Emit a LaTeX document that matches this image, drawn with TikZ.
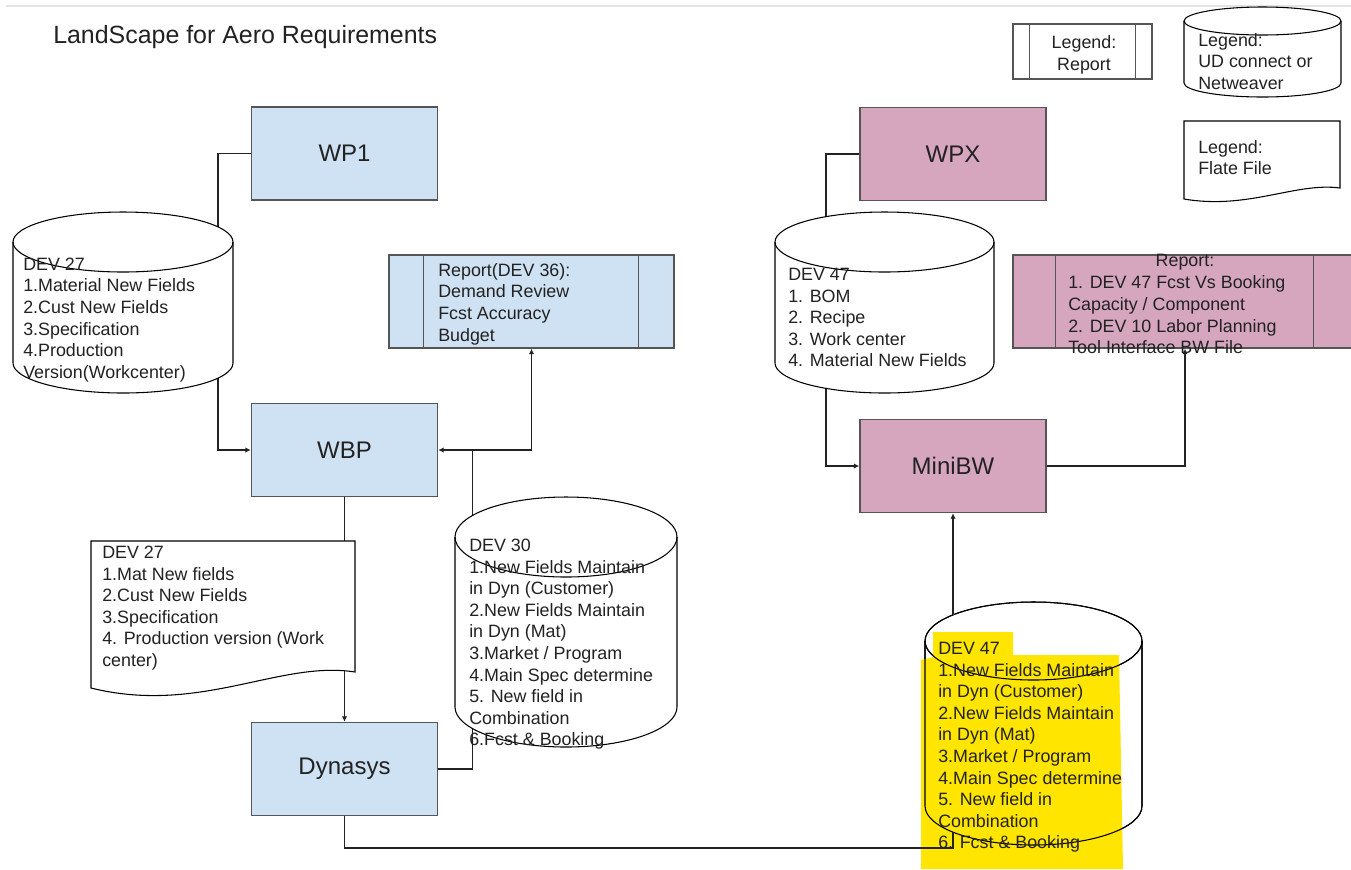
\documentclass[tikz,border=0pt]{standalone}
\usepackage{fontspec}
\setmainfont{Liberation Sans}
\usetikzlibrary{arrows.meta,calc}
\definecolor{boxblue}{HTML}{CFE2F3}
\definecolor{boxpink}{HTML}{D5A6BD}
\definecolor{hl}{HTML}{FFE500}
\definecolor{edge}{HTML}{555555}
\definecolor{ink}{HTML}{222222}
\definecolor{topline}{HTML}{E3E3E3}
\newcommand\bodyfont{\fontsize{13.4}{16.2}\selectfont}
% #1 fill, #2 xl, #3 xr, #4 cy top, #5 cy bottom, #6 ry (px)
\newcommand\mycyl[6]{%
  \path[draw=black, line width=0.8pt, fill=#1] (#2,#4) -- (#2,#5)
    arc[start angle=180,end angle=360,x radius={(#3-#2)*0.375pt},y radius={#6*0.75pt}]
    -- (#3,#4)
    arc[start angle=0,end angle=180,x radius={(#3-#2)*0.375pt},y radius={#6*0.75pt}] -- cycle;
  \draw[black, line width=0.8pt] (#2,#4)
    arc[start angle=180,end angle=360,x radius={(#3-#2)*0.375pt},y radius={#6*0.75pt}];}
\begin{document}
\begin{tikzpicture}[x=0.75pt,y=-0.75pt,
  box/.style={draw=edge, line width=1.1pt, minimum width=139.5pt, minimum height=69.75pt,
    inner sep=0pt, text=ink, font=\fontsize{18}{21}\selectfont},
  conn/.style={draw=ink, line width=0.9pt},
  arr/.style={-{Latex[length=4pt,width=4pt]}},
  txt/.style={anchor=north west, inner sep=0pt, align=left, text=ink, font=\bodyfont},
  outl/.style={draw=black, line width=0.8pt}]
\useasboundingbox (0,0) rectangle (1351,869);
\clip (0,0) rectangle (1351,869);
\fill[white] (0,0) rectangle (1351,869);
\draw[topline, line width=1.5pt] (6,6) -- (1351,6);
\node[anchor=base west, inner sep=0pt, text=ink, font=\fontsize{18.7}{22}\selectfont] (title) at (53,43) {LandScape for Aero Requirements};

% main boxes
\node[box, fill=boxblue] (wp1) at (344.5,153.5) {WP1};
\node[box, fill=boxblue] (wbp) at (344.5,450) {WBP};
\node[box, fill=boxblue] (dyn) at (344.5,769) {Dynasys};
\node[box, fill=boxpink] (wpx) at (953,154) {WPX};
\node[box, fill=boxpink] (minibw) at (953,466) {MiniBW};

% report boxes
\node[box, fill=boxblue, minimum width=213.75pt] (rep36) at (531.5,301.5) {};
\draw[edge, line width=1.1pt] ([xshift=26.25pt]rep36.north west) -- ([xshift=26.25pt]rep36.south west);
\draw[edge, line width=1.1pt] ([xshift=-27pt]rep36.north east) -- ([xshift=-27pt]rep36.south east);
\node[box, fill=boxpink, minimum width=258pt] (reppink) at (1185,301.5) {};
\draw[edge, line width=1.1pt] ([xshift=32.25pt]reppink.north west) -- ([xshift=32.25pt]reppink.south west);
\draw[edge, line width=1.1pt] ([xshift=-33pt]reppink.north east) -- ([xshift=-33pt]reppink.south east);

% legend report
\node[draw=edge, line width=0.9pt, fill=white, minimum width=104.25pt, minimum height=41.25pt,
  inner sep=0pt] (legrep) at (1082.5,51.5) {};
\draw[edge, line width=0.9pt] ([xshift=12.75pt]legrep.north west) -- ([xshift=12.75pt]legrep.south west);
\draw[edge, line width=0.9pt] ([xshift=-12.75pt]legrep.north east) -- ([xshift=-12.75pt]legrep.south east);
\node[anchor=north, inner sep=0pt, align=center, text=ink, font=\bodyfont] (tlegrep) at (1084,33.5) {\strut Legend:\\Report};

% connectors passing behind shapes
\coordinate (j1) at ($(wbp.east)+(34,0)$);
\draw[conn, arr] (wp1.west) -| (218,300) |- (wbp.west);
\draw[conn, arr] (wpx.west) -| (826,300) |- (minibw.west);
\draw[conn, arr] (wbp.south) -- (dyn.north);
\draw[conn, arr] (dyn.east) -| (j1) -- (wbp.east);
\draw[conn, arr] (j1) -| (rep36.south);

% cylinders and documents
\mycyl{white}{1184}{1341}{21}{83}{14}
\filldraw[outl, fill=white] (1184,121) -- (1340,121) -- (1340,188)
  .. controls (1296,182) and (1248,210) .. (1184,199) -- cycle;
\mycyl{white}{13}{233}{242}{363}{30}
\mycyl{white}{775}{994}{242}{363}{30}
\mycyl{white}{455}{677}{537}{707}{40}
\filldraw[outl, fill=white] (91,541) -- (355,541) -- (355,672)
  .. controls (280,660) and (200,715) .. (91,688) -- cycle;

% highlighted cylinder
\mycyl{white}{925}{1142}{641}{806}{39}
\fill[hl] (933,632) -- (1013,632) -- (1013,655) -- (1119,655) -- (1123,869) -- (921,869)
  -- (921,660) -- (933,657) -- cycle;
\mycyl{none}{925}{1142}{641}{806}{39}

% connectors in front
\coordinate (c47b) at (953,832);
\coordinate (c47t) at (953,615);
\draw[conn] (dyn.south) |- ($(c47b)+(0,16)$) -- (c47b);
\draw[conn, arr] (c47t) -- (minibw.south);
\draw[conn, arr] (minibw.east) -| (reppink.south);

% texts
\node[txt] (tleg1) at (1198,31) {\strut Legend:\\UD connect or\\Netweaver};
\node[txt] (tleg2) at (1198,138) {\strut Legend:\\Flate File};
\node[txt] (t27a) at (23,255) {\strut DEV 27\\1.Material New Fields\\2.Cust New Fields\\3.Specification\\4.Production\\Version(Workcenter)};
\node[txt] (t36) at (438,261) {\strut Report(DEV 36):\\Demand Review\\Fcst Accuracy\\Budget};
\node[txt] (t47a) at (788,265) {\strut DEV 47\\1. BOM\\2. Recipe\\3. Work center\\4. Material New Fields};
\node[anchor=north, inner sep=0pt, text=ink, font=\bodyfont] (trep) at (1185,251.5) {\strut Report:};
\node[txt] (trep2) at (1068,273.5) {\strut 1. DEV 47 Fcst Vs Booking\\Capacity / Component\\2. DEV 10 Labor Planning\\Tool Interface BW File};
\node[txt] (t27b) at (102,543) {\strut DEV 27\\1.Mat New fields\\2.Cust New Fields\\3.Specification\\4. Production version (Work\\center)};
\node[txt] (t30) at (469,536) {\strut DEV 30\\1.New Fields Maintain\\in Dyn (Customer)\\2.New Fields Maintain\\in Dyn (Mat)\\3.Market / Program\\4.Main Spec determine\\5. New field in\\Combination\\6.Fcst \& Booking};
\node[txt] (t47b) at (938,639) {\strut DEV 47\\1.New Fields Maintain\\in Dyn (Customer)\\2.New Fields Maintain\\in Dyn (Mat)\\3.Market / Program\\4.Main Spec determine\\5. New field in\\Combination\\6. Fcst \& Booking};
\end{tikzpicture}
\end{document}
